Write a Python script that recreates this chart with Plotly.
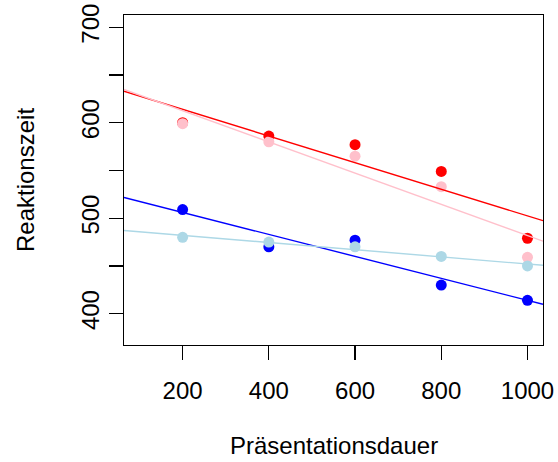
import numpy as np
import plotly.graph_objects as go

dauer = [200, 400, 600, 800, 1000]
rot = [600, 586, 577, 549, 479]
rosa = [599, 580, 565, 533, 459]
blau = [509, 470, 477, 430, 414]
hellblau = [480, 475, 470, 460, 450]

x_ticks = [200, 400, 600, 800, 1000]
y_ticks = [400, 450, 500, 550, 600, 650, 700]
y_labels = ["400", "", "500", "", "600", "", "700"]

xlim = (100, 1000)
ylim = (380, 700)
def ext(lim):
    d = (lim[1] - lim[0]) * 0.04
    return [lim[0] - d, lim[1] + d]
xr = ext(xlim)
yr = ext(ylim)

W, H = 558, 462
M = dict(l=124, r=15, t=15, b=117)
TICKLEN = 14

series = [(rot, "red"), (rosa, "pink"), (blau, "blue"), (hellblau, "lightblue")]

fig = go.Figure()
for ys, col in series:
    fig.add_trace(go.Scatter(x=dauer, y=ys, mode="markers",
                             marker=dict(color=col, size=11, line=dict(width=0)),
                             showlegend=False))
for ys, col in series:
    b, a = np.polyfit(dauer, ys, 1)
    xs = np.array(xr)
    fig.add_trace(go.Scatter(x=xs, y=a + b * xs, mode="lines",
                             line=dict(color=col, width=1.4),
                             showlegend=False))

font = dict(family="Liberation Sans, Arial, sans-serif", size=24, color="black")
tick_style = dict(ticks="outside", ticklen=TICKLEN, tickwidth=1.2, tickcolor="#000000")
fig.update_layout(
    template="none",
    width=W, height=H,
    margin=M,
    paper_bgcolor="white", plot_bgcolor="white",
    font=font,
    xaxis=dict(range=xr, tickmode="array", tickvals=x_ticks, showgrid=False,
               zeroline=False, automargin=False, showline=True, mirror=True,
               linecolor="black", linewidth=1.2, ticklabelstandoff=10, **tick_style),
    yaxis=dict(range=yr, tickmode="array", tickvals=y_ticks, ticktext=y_labels,
               tickangle=-90, showgrid=False, zeroline=False, automargin=False,
               showline=True, mirror=True, linecolor="black", linewidth=1.2,
               **tick_style),
    annotations=[
        dict(text="Präsentationsdauer", xref="paper", yref="paper", x=0.5, y=0,
             yshift=-100, xanchor="center", yanchor="middle", showarrow=False),
        dict(text="Reaktionszeit", xref="paper", yref="paper", x=0, y=0.5, textangle=-90,
             xshift=-99, xanchor="center", yanchor="middle", showarrow=False),
    ],
)
fig.write_html("out.html", config={"staticPlot": True, "displayModeBar": False},
               post_script="document.body.style.margin='0';")
